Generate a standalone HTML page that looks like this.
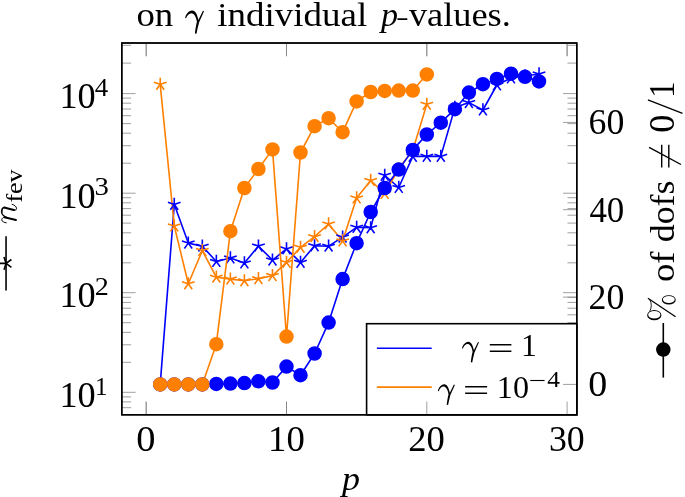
<!DOCTYPE html>
<html><head><meta charset="utf-8"><title>plot</title>
<style>html,body{margin:0;padding:0;background:#fff}body{width:685px;height:497px;overflow:hidden;font-family:"Liberation Serif",serif}svg{display:block;will-change:transform}text{font-kerning:none}</style>
</head><body>
<svg width="685" height="497" viewBox="0 0 685 497" font-family="'Liberation Serif', serif" fill="#000">
<rect width="685" height="497" fill="#fff"/>
<path d="M146.2 43.0V56.2M146.2 414.8V401.6M286.5 43.0V56.2M286.5 414.8V401.6M426.8 43.0V56.2M426.8 414.8V401.6M567.1 43.0V56.2M567.1 414.8V401.6M121.8 407.7h9.3M576.8 407.7h-9.3M121.8 401.9h9.3M576.8 401.9h-9.3M121.8 396.9h9.3M576.8 396.9h-9.3M121.8 392.3h13.8M576.8 392.3h-13.8M121.8 362.3h9.3M576.8 362.3h-9.3M121.8 344.8h9.3M576.8 344.8h-9.3M121.8 332.4h9.3M576.8 332.4h-9.3M121.8 322.7h9.3M576.8 322.7h-9.3M121.8 314.8h9.3M576.8 314.8h-9.3M121.8 308.2h9.3M576.8 308.2h-9.3M121.8 302.4h9.3M576.8 302.4h-9.3M121.8 297.3h9.3M576.8 297.3h-9.3M121.8 292.7h13.8M576.8 292.7h-13.8M121.8 262.8h9.3M576.8 262.8h-9.3M121.8 245.2h9.3M576.8 245.2h-9.3M121.8 232.8h9.3M576.8 232.8h-9.3M121.8 223.1h9.3M576.8 223.1h-9.3M121.8 215.2h9.3M576.8 215.2h-9.3M121.8 208.6h9.3M576.8 208.6h-9.3M121.8 202.8h9.3M576.8 202.8h-9.3M121.8 197.7h9.3M576.8 197.7h-9.3M121.8 193.2h13.8M576.8 193.2h-13.8M121.8 163.2h9.3M576.8 163.2h-9.3M121.8 145.7h9.3M576.8 145.7h-9.3M121.8 133.2h9.3M576.8 133.2h-9.3M121.8 123.6h9.3M576.8 123.6h-9.3M121.8 115.7h9.3M576.8 115.7h-9.3M121.8 109.0h9.3M576.8 109.0h-9.3M121.8 103.2h9.3M576.8 103.2h-9.3M121.8 98.1h9.3M576.8 98.1h-9.3M121.8 93.6h13.8M576.8 93.6h-13.8M121.8 63.1h9.3M576.8 63.1h-9.3M121.8 45.3h9.3M576.8 45.3h-9.3" stroke="#808080" stroke-width="0.75" fill="none"/>
<rect x="121.8" y="43.0" width="454.99999999999994" height="371.8" fill="none" stroke="#000" stroke-width="1.4"/>
<polyline points="160.2,384.4 174.3,204.4 188.3,243.1 202.3,246.2 216.3,261.5 230.4,258.0 244.4,263.0 258.4,246.1 272.5,260.1 286.5,248.9 300.5,262.4 314.6,245.8 328.6,246.2 342.6,237.1 356.6,227.3 370.7,227.8 384.7,175.3 398.7,187.5 412.8,156.4 426.8,156.4 440.8,156.4 454.9,107.5 468.9,102.6 482.9,110.0 496.9,85.0 511.0,78.0 525.0,76.0 539.0,74.0" fill="none" stroke="#0000ff" stroke-width="1.6" stroke-linejoin="round"/>
<polyline points="160.2,84.3 174.3,226.0 188.3,283.8 202.3,250.6 216.3,277.2 230.4,279.1 244.4,280.8 258.4,278.7 272.5,275.6 286.5,262.4 300.5,247.3 314.6,236.7 328.6,224.0 342.6,241.0 356.6,198.0 370.7,180.5 384.7,193.5 398.7,168.8 412.8,150.2 426.8,104.3" fill="none" stroke="#ff8000" stroke-width="1.6" stroke-linejoin="round"/>
<path d="M160.23 384.40L160.23 377.76M160.23 384.40L153.91 382.35M160.23 384.40L156.33 389.77M160.23 384.40L164.13 389.77M160.23 384.40L166.55 382.35M174.26 204.40L174.26 197.76M174.26 204.40L167.94 202.35M174.26 204.40L170.36 209.77M174.26 204.40L178.16 209.77M174.26 204.40L180.58 202.35M188.29 243.10L188.29 236.46M188.29 243.10L181.97 241.05M188.29 243.10L184.39 248.47M188.29 243.10L192.19 248.47M188.29 243.10L194.61 241.05M202.32 246.20L202.32 239.56M202.32 246.20L196.00 244.15M202.32 246.20L198.42 251.57M202.32 246.20L206.22 251.57M202.32 246.20L208.64 244.15M216.35 261.50L216.35 254.86M216.35 261.50L210.03 259.45M216.35 261.50L212.45 266.87M216.35 261.50L220.25 266.87M216.35 261.50L222.67 259.45M230.38 258.00L230.38 251.36M230.38 258.00L224.06 255.95M230.38 258.00L226.48 263.37M230.38 258.00L234.28 263.37M230.38 258.00L236.70 255.95M244.41 263.00L244.41 256.36M244.41 263.00L238.09 260.95M244.41 263.00L240.51 268.37M244.41 263.00L248.31 268.37M244.41 263.00L250.73 260.95M258.44 246.10L258.44 239.46M258.44 246.10L252.12 244.05M258.44 246.10L254.54 251.47M258.44 246.10L262.34 251.47M258.44 246.10L264.76 244.05M272.47 260.10L272.47 253.46M272.47 260.10L266.15 258.05M272.47 260.10L268.57 265.47M272.47 260.10L276.37 265.47M272.47 260.10L278.79 258.05M286.50 248.90L286.50 242.26M286.50 248.90L280.18 246.85M286.50 248.90L282.60 254.27M286.50 248.90L290.40 254.27M286.50 248.90L292.82 246.85M300.53 262.40L300.53 255.76M300.53 262.40L294.21 260.35M300.53 262.40L296.63 267.77M300.53 262.40L304.43 267.77M300.53 262.40L306.85 260.35M314.56 245.80L314.56 239.16M314.56 245.80L308.24 243.75M314.56 245.80L310.66 251.17M314.56 245.80L318.46 251.17M314.56 245.80L320.88 243.75M328.59 246.20L328.59 239.56M328.59 246.20L322.27 244.15M328.59 246.20L324.69 251.57M328.59 246.20L332.49 251.57M328.59 246.20L334.91 244.15M342.62 237.10L342.62 230.46M342.62 237.10L336.30 235.05M342.62 237.10L338.72 242.47M342.62 237.10L346.52 242.47M342.62 237.10L348.94 235.05M356.65 227.30L356.65 220.66M356.65 227.30L350.33 225.25M356.65 227.30L352.75 232.67M356.65 227.30L360.55 232.67M356.65 227.30L362.97 225.25M370.68 227.80L370.68 221.16M370.68 227.80L364.36 225.75M370.68 227.80L366.78 233.17M370.68 227.80L374.58 233.17M370.68 227.80L377.00 225.75M384.71 175.30L384.71 168.66M384.71 175.30L378.39 173.25M384.71 175.30L380.81 180.67M384.71 175.30L388.61 180.67M384.71 175.30L391.03 173.25M398.74 187.50L398.74 180.86M398.74 187.50L392.42 185.45M398.74 187.50L394.84 192.87M398.74 187.50L402.64 192.87M398.74 187.50L405.06 185.45M412.77 156.40L412.77 149.76M412.77 156.40L406.45 154.35M412.77 156.40L408.87 161.77M412.77 156.40L416.67 161.77M412.77 156.40L419.09 154.35M426.80 156.40L426.80 149.76M426.80 156.40L420.48 154.35M426.80 156.40L422.90 161.77M426.80 156.40L430.70 161.77M426.80 156.40L433.12 154.35M440.83 156.40L440.83 149.76M440.83 156.40L434.51 154.35M440.83 156.40L436.93 161.77M440.83 156.40L444.73 161.77M440.83 156.40L447.15 154.35M454.86 107.50L454.86 100.86M454.86 107.50L448.54 105.45M454.86 107.50L450.96 112.87M454.86 107.50L458.76 112.87M454.86 107.50L461.18 105.45M468.89 102.60L468.89 95.96M468.89 102.60L462.57 100.55M468.89 102.60L464.99 107.97M468.89 102.60L472.79 107.97M468.89 102.60L475.21 100.55M482.92 110.00L482.92 103.36M482.92 110.00L476.60 107.95M482.92 110.00L479.02 115.37M482.92 110.00L486.82 115.37M482.92 110.00L489.24 107.95M496.95 85.00L496.95 78.36M496.95 85.00L490.63 82.95M496.95 85.00L493.05 90.37M496.95 85.00L500.85 90.37M496.95 85.00L503.27 82.95M510.98 78.00L510.98 71.36M510.98 78.00L504.66 75.95M510.98 78.00L507.08 83.37M510.98 78.00L514.88 83.37M510.98 78.00L517.30 75.95M525.01 76.00L525.01 69.36M525.01 76.00L518.69 73.95M525.01 76.00L521.11 81.37M525.01 76.00L528.91 81.37M525.01 76.00L531.33 73.95M539.04 74.00L539.04 67.36M539.04 74.00L532.72 71.95M539.04 74.00L535.14 79.37M539.04 74.00L542.94 79.37M539.04 74.00L545.36 71.95" fill="none" stroke="#0000ff" stroke-width="1.6"/>
<path d="M160.23 84.30L160.23 77.66M160.23 84.30L153.91 82.25M160.23 84.30L156.33 89.67M160.23 84.30L164.13 89.67M160.23 84.30L166.55 82.25M174.26 226.00L174.26 219.36M174.26 226.00L167.94 223.95M174.26 226.00L170.36 231.37M174.26 226.00L178.16 231.37M174.26 226.00L180.58 223.95M188.29 283.80L188.29 277.16M188.29 283.80L181.97 281.75M188.29 283.80L184.39 289.17M188.29 283.80L192.19 289.17M188.29 283.80L194.61 281.75M202.32 250.60L202.32 243.96M202.32 250.60L196.00 248.55M202.32 250.60L198.42 255.97M202.32 250.60L206.22 255.97M202.32 250.60L208.64 248.55M216.35 277.20L216.35 270.56M216.35 277.20L210.03 275.15M216.35 277.20L212.45 282.57M216.35 277.20L220.25 282.57M216.35 277.20L222.67 275.15M230.38 279.10L230.38 272.46M230.38 279.10L224.06 277.05M230.38 279.10L226.48 284.47M230.38 279.10L234.28 284.47M230.38 279.10L236.70 277.05M244.41 280.80L244.41 274.16M244.41 280.80L238.09 278.75M244.41 280.80L240.51 286.17M244.41 280.80L248.31 286.17M244.41 280.80L250.73 278.75M258.44 278.70L258.44 272.06M258.44 278.70L252.12 276.65M258.44 278.70L254.54 284.07M258.44 278.70L262.34 284.07M258.44 278.70L264.76 276.65M272.47 275.60L272.47 268.96M272.47 275.60L266.15 273.55M272.47 275.60L268.57 280.97M272.47 275.60L276.37 280.97M272.47 275.60L278.79 273.55M286.50 262.40L286.50 255.76M286.50 262.40L280.18 260.35M286.50 262.40L282.60 267.77M286.50 262.40L290.40 267.77M286.50 262.40L292.82 260.35M300.53 247.30L300.53 240.66M300.53 247.30L294.21 245.25M300.53 247.30L296.63 252.67M300.53 247.30L304.43 252.67M300.53 247.30L306.85 245.25M314.56 236.70L314.56 230.06M314.56 236.70L308.24 234.65M314.56 236.70L310.66 242.07M314.56 236.70L318.46 242.07M314.56 236.70L320.88 234.65M328.59 224.00L328.59 217.36M328.59 224.00L322.27 221.95M328.59 224.00L324.69 229.37M328.59 224.00L332.49 229.37M328.59 224.00L334.91 221.95M342.62 241.00L342.62 234.36M342.62 241.00L336.30 238.95M342.62 241.00L338.72 246.37M342.62 241.00L346.52 246.37M342.62 241.00L348.94 238.95M356.65 198.00L356.65 191.36M356.65 198.00L350.33 195.95M356.65 198.00L352.75 203.37M356.65 198.00L360.55 203.37M356.65 198.00L362.97 195.95M370.68 180.50L370.68 173.86M370.68 180.50L364.36 178.45M370.68 180.50L366.78 185.87M370.68 180.50L374.58 185.87M370.68 180.50L377.00 178.45M384.71 193.50L384.71 186.86M384.71 193.50L378.39 191.45M384.71 193.50L380.81 198.87M384.71 193.50L388.61 198.87M384.71 193.50L391.03 191.45M398.74 168.80L398.74 162.16M398.74 168.80L392.42 166.75M398.74 168.80L394.84 174.17M398.74 168.80L402.64 174.17M398.74 168.80L405.06 166.75M412.77 150.20L412.77 143.56M412.77 150.20L406.45 148.15M412.77 150.20L408.87 155.57M412.77 150.20L416.67 155.57M412.77 150.20L419.09 148.15M426.80 104.30L426.80 97.66M426.80 104.30L420.48 102.25M426.80 104.30L422.90 109.67M426.80 104.30L430.70 109.67M426.80 104.30L433.12 102.25" fill="none" stroke="#ff8000" stroke-width="1.6"/>
<rect x="366.6" y="323.7" width="210.19999999999993" height="91.10000000000002" fill="#fff" stroke="#000" stroke-width="1.6"/>
<path d="M376.9 348.2H431.7" stroke="#0000ff" stroke-width="1.6"/>
<path d="M376.9 387.1H431.7" stroke="#ff8000" stroke-width="1.6"/>
<path transform="translate(462.00 355.80) scale(1.000)" d="M0 -7.4C0.6 -10.5 3 -13.9 6.3 -14.1C9.3 -14.2 10.9 -10.5 11.9 -5.6L16 -13.9L17 -13.5L12.6 -3.6C11.6 0 10.8 3.5 10.2 6.6L8.8 6.4C9.2 2.5 9.9 -1 10.6 -4C10 -8 8.6 -11.2 6 -11.8C3.8 -12 1.8 -10 0.9 -7.2Z"><title>γ</title></path>
<text transform="translate(487.59 358.50) scale(1.4974 1)" font-size="31.0">=</text>
<text transform="translate(521.00 355.80) scale(1.0262 1)" font-size="31.0">1</text>
<path transform="translate(437.90 398.40) scale(1.000)" d="M0 -7.4C0.6 -10.5 3 -13.9 6.3 -14.1C9.3 -14.2 10.9 -10.5 11.9 -5.6L16 -13.9L17 -13.5L12.6 -3.6C11.6 0 10.8 3.5 10.2 6.6L8.8 6.4C9.2 2.5 9.9 -1 10.6 -4C10 -8 8.6 -11.2 6 -11.8C3.8 -12 1.8 -10 0.9 -7.2Z"><title>γ</title></path>
<text transform="translate(462.85 400.80) scale(1.5251 1)" font-size="31.0">=</text>
<text transform="translate(496.87 398.40) scale(1.0371 1)" font-size="31.0">10</text>
<text transform="translate(528.86 388.30) scale(1.3693 1)" font-size="22.6">−</text>
<text transform="translate(547.30 387.20) scale(1.1232 1)" font-size="22.6">4</text>
<path d="M146.2 43.0V56.2M146.2 414.8V401.6M286.5 43.0V56.2M286.5 414.8V401.6M426.8 43.0V56.2M426.8 414.8V401.6M567.1 43.0V56.2M567.1 414.8V401.6M576.8 384.4h-13.8M576.8 297.1h-13.8M576.8 209.7h-13.8M576.8 122.4h-13.8" stroke="#808080" stroke-width="0.75" fill="none"/>
<rect x="121.8" y="43.0" width="454.99999999999994" height="371.8" fill="none" stroke="#000" stroke-width="1.4"/>
<polyline points="160.2,384.4 174.3,384.4 188.3,384.4 202.3,384.4 216.3,383.9 230.4,383.6 244.4,383.1 258.4,381.3 272.5,382.5 286.5,366.6 300.5,375.2 314.6,353.5 328.6,322.6 342.6,279.1 356.6,243.2 370.7,212.0 384.7,188.0 398.7,169.6 412.8,149.9 426.8,134.5 440.8,122.7 454.9,109.2 468.9,92.6 482.9,84.2 496.9,78.9 511.0,73.7 525.0,76.8 539.0,81.4" fill="none" stroke="#0000ff" stroke-width="1.6" stroke-linejoin="round"/>
<polyline points="160.2,384.4 174.3,384.4 188.3,384.4 202.3,384.4 216.3,344.2 230.4,231.2 244.4,188.0 258.4,169.0 272.5,149.4 286.5,336.6 300.5,152.5 314.6,126.2 328.6,118.2 342.6,132.2 356.6,101.4 370.7,92.0 384.7,90.9 398.7,90.6 412.8,90.6 426.8,74.4" fill="none" stroke="#ff8000" stroke-width="1.6" stroke-linejoin="round"/>
<g fill="#0000ff" stroke="#0000ff" stroke-width="1.6">
<circle cx="160.2" cy="384.4" r="6.45"/>
<circle cx="174.3" cy="384.4" r="6.45"/>
<circle cx="188.3" cy="384.4" r="6.45"/>
<circle cx="202.3" cy="384.4" r="6.45"/>
<circle cx="216.3" cy="383.9" r="6.45"/>
<circle cx="230.4" cy="383.6" r="6.45"/>
<circle cx="244.4" cy="383.1" r="6.45"/>
<circle cx="258.4" cy="381.3" r="6.45"/>
<circle cx="272.5" cy="382.5" r="6.45"/>
<circle cx="286.5" cy="366.6" r="6.45"/>
<circle cx="300.5" cy="375.2" r="6.45"/>
<circle cx="314.6" cy="353.5" r="6.45"/>
<circle cx="328.6" cy="322.6" r="6.45"/>
<circle cx="342.6" cy="279.1" r="6.45"/>
<circle cx="356.6" cy="243.2" r="6.45"/>
<circle cx="370.7" cy="212.0" r="6.45"/>
<circle cx="384.7" cy="188.0" r="6.45"/>
<circle cx="398.7" cy="169.6" r="6.45"/>
<circle cx="412.8" cy="149.9" r="6.45"/>
<circle cx="426.8" cy="134.5" r="6.45"/>
<circle cx="440.8" cy="122.7" r="6.45"/>
<circle cx="454.9" cy="109.2" r="6.45"/>
<circle cx="468.9" cy="92.6" r="6.45"/>
<circle cx="482.9" cy="84.2" r="6.45"/>
<circle cx="496.9" cy="78.9" r="6.45"/>
<circle cx="511.0" cy="73.7" r="6.45"/>
<circle cx="525.0" cy="76.8" r="6.45"/>
<circle cx="539.0" cy="81.4" r="6.45"/>
</g>
<g fill="#ff8000" stroke="#ff8000" stroke-width="1.6">
<circle cx="160.2" cy="384.4" r="6.45"/>
<circle cx="174.3" cy="384.4" r="6.45"/>
<circle cx="188.3" cy="384.4" r="6.45"/>
<circle cx="202.3" cy="384.4" r="6.45"/>
<circle cx="216.3" cy="344.2" r="6.45"/>
<circle cx="230.4" cy="231.2" r="6.45"/>
<circle cx="244.4" cy="188.0" r="6.45"/>
<circle cx="258.4" cy="169.0" r="6.45"/>
<circle cx="272.5" cy="149.4" r="6.45"/>
<circle cx="286.5" cy="336.6" r="6.45"/>
<circle cx="300.5" cy="152.5" r="6.45"/>
<circle cx="314.6" cy="126.2" r="6.45"/>
<circle cx="328.6" cy="118.2" r="6.45"/>
<circle cx="342.6" cy="132.2" r="6.45"/>
<circle cx="356.6" cy="101.4" r="6.45"/>
<circle cx="370.7" cy="92.0" r="6.45"/>
<circle cx="384.7" cy="90.9" r="6.45"/>
<circle cx="398.7" cy="90.6" r="6.45"/>
<circle cx="412.8" cy="90.6" r="6.45"/>
<circle cx="426.8" cy="74.4" r="6.45"/>
</g>
<text transform="translate(59.41 407.00) scale(1.0217 1)" font-size="35.5">10</text>
<text transform="translate(94.90 394.50) scale(0.9841 1)" font-size="25.4">1</text>
<text transform="translate(59.41 307.43) scale(1.0217 1)" font-size="35.5">10</text>
<text transform="translate(94.86 294.93) scale(1.1098 1)" font-size="25.4">2</text>
<text transform="translate(59.41 207.86) scale(1.0217 1)" font-size="35.5">10</text>
<text transform="translate(94.42 195.36) scale(1.1342 1)" font-size="25.4">3</text>
<text transform="translate(59.41 108.29) scale(1.0217 1)" font-size="35.5">10</text>
<text transform="translate(94.77 95.79) scale(1.0587 1)" font-size="25.4">4</text>
<text transform="translate(136.34 450.60) scale(1.0834 1)" font-size="35.5">0</text>
<text transform="translate(268.07 450.60) scale(1.0346 1)" font-size="35.5">10</text>
<text transform="translate(408.19 450.60) scale(1.0311 1)" font-size="35.5">20</text>
<text transform="translate(548.99 450.60) scale(1.0077 1)" font-size="35.5">30</text>
<text transform="translate(588.52 308.96) scale(1.0096 1)" font-size="35.5">20</text>
<text transform="translate(589.42 221.62) scale(0.9834 1)" font-size="35.5">40</text>
<text transform="translate(588.56 134.28) scale(1.0085 1)" font-size="35.5">60</text>
<text transform="translate(588.15 396.30) scale(1.0701 1)" font-size="35.5">0</text>
<text transform="translate(341.91 490.20) scale(1.0735 1)" font-size="33.5" font-style="italic">p</text>
<text transform="translate(136.40 26.30) scale(1.0747 1)" font-size="34.3">on</text>
<path transform="translate(185.10 26.30) scale(1.115)" d="M0 -7.4C0.6 -10.5 3 -13.9 6.3 -14.1C9.3 -14.2 10.9 -10.5 11.9 -5.6L16 -13.9L17 -13.5L12.6 -3.6C11.6 0 10.8 3.5 10.2 6.6L8.8 6.4C9.2 2.5 9.9 -1 10.6 -4C10 -8 8.6 -11.2 6 -11.8C3.8 -12 1.8 -10 0.9 -7.2Z"><title>γ</title></path>
<text transform="translate(217.22 26.30) scale(1.0793 1)" font-size="34.3">individual</text>
<text transform="translate(381.00 26.30) scale(1.0170 1)" font-size="33.5" font-style="italic">p</text>
<text transform="translate(395.89 24.80) scale(1.1111 0.65)" font-size="34.3">-</text>
<text transform="translate(408.90 26.30) scale(1.0603 1)" font-size="34.3">values.</text>
<path d="M6.05 290.6V236.3" stroke="#000" stroke-width="1.6"/>
<path d="M6.05 263.40L6.05 256.76M6.05 263.40L-0.27 261.35M6.05 263.40L2.15 268.77M6.05 263.40L9.95 268.77M6.05 263.40L12.37 261.35" stroke="#000" stroke-width="1.6" fill="none" transform="rotate(-90 6.05 263.4)"/>
<g fill="none" stroke="#000" stroke-linecap="round" stroke-linejoin="round"><title>n</title><path stroke-width="1.95" d="M4.4 217.2L16.0 220.0M4.2 207.5C8 208.3 11 209.2 14.2 210.1"/><path stroke-width="0.95" d="M6.3 222.8C4.5 222.6 1.6 221.6 1.7 219.8C1.8 218.4 3.2 217.2 4.6 217.3M14.2 210.1C15.8 210.6 16.6 209.6 16.5 208.2C16.4 206.5 14.3 205 12.1 204.3"/><path stroke-width="1.2" d="M7.5 217.9C4 216.5 1.5 214.5 1.6 211.8"/><path stroke-width="1.7" d="M1.7 212C1.7 209.4 2.6 207.7 4.2 207.5"/></g>
<text transform="translate(22.30 202.60) rotate(-90) scale(1.1064 1)" font-size="23.5">fev</text>
<path d="M663.3 377.6V323" stroke="#000" stroke-width="1.6"/>
<circle cx="663.3" cy="349.6" r="6.45" fill="#000" stroke="#000" stroke-width="1.6"/>
<g><title>%</title><path fill-rule="evenodd" d="M647.15 315.20A7.15 5.15 0 1 0 661.45 315.20A7.15 5.15 0 1 0 647.15 315.20ZM648.15 314.75A6.15 3.75 0 1 0 660.45 314.75A6.15 3.75 0 1 0 648.15 314.75ZM661.85 299.90A6.95 4.7 0 1 0 675.75 299.90A6.95 4.7 0 1 0 661.85 299.90ZM662.85 299.50A5.95 3.4 0 1 0 674.75 299.50A5.95 3.4 0 1 0 662.85 299.50Z"/><path fill="none" stroke="#000" stroke-width="1.25" d="M647.9 298.3L675.6 316.7"/><path fill="none" stroke="#000" stroke-width="0.9" d="M649.6 311.4C651.6 308 652 303.5 649.6 299.6"/></g>
<text transform="translate(674.20 281.99) rotate(-90) scale(1.0673 1)" font-size="34.3">of</text>
<text transform="translate(674.20 242.30) rotate(-90) scale(1.0461 1)" font-size="34.3">dofs</text>
<path d="M661.7 167.6V144.8M668.8 167.6V144.8M681 164.5L649.1 147.4" stroke="#000" stroke-width="1.4" fill="none"/>
<text transform="translate(674.20 132.87) rotate(-90) scale(1.0169 1)" font-size="35.5">0</text>
<path d="M682.5 113.3L647.9 99.9" stroke="#000" stroke-width="1.35" fill="none"><title>/</title></path>
<text transform="translate(674.20 97.85) rotate(-90) scale(0.9122 1)" font-size="35.5">1</text>
</svg>
</body></html>
